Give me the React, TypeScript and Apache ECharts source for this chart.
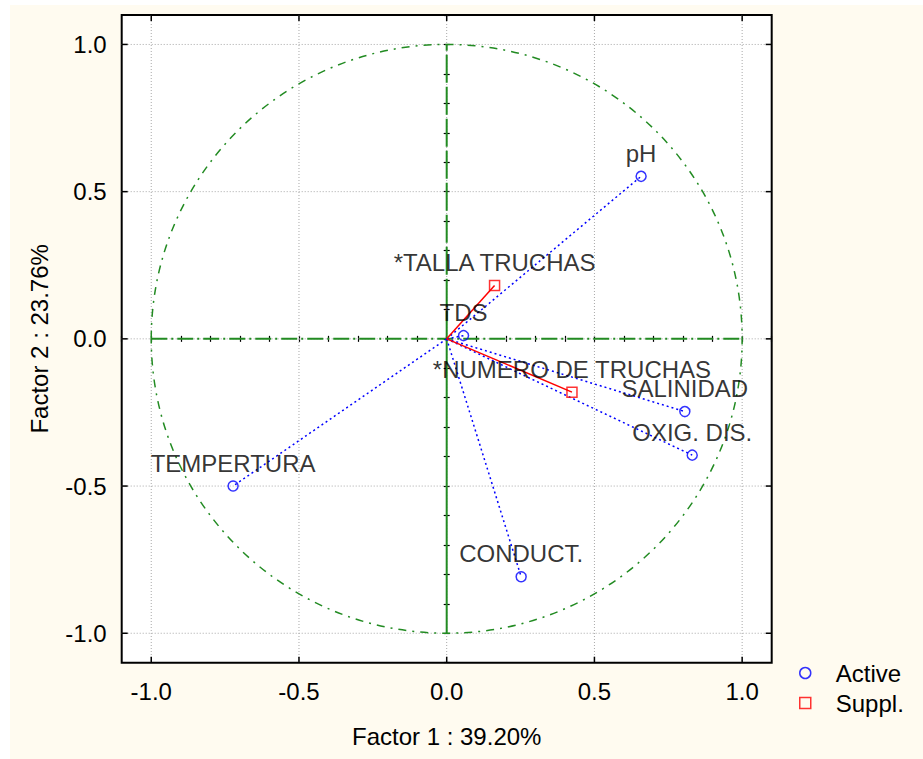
import React, { useEffect, useRef } from "react";
import * as echarts from "echarts";

// ---- data ----
const activeNames = ["pH", "TDS", "SALINIDAD", "OXIG. DIS.", "CONDUCT.", "TEMPERTURA"];
const activeX = [0.658, 0.057, 0.806, 0.831, 0.252, -0.723];
const activeY = [0.552, 0.011, -0.247, -0.395, -0.808, -0.5];

const supplNames = ["*TALLA TRUCHAS", "*NUMERO DE TRUCHAS"];
const supplX = [0.162, 0.424];
const supplY = [0.181, -0.181];

const majorTicks = [-1.0, -0.5, 0.0, 0.5, 1.0];
const axisMin = -1.1;
const axisMax = 1.1;
const minorStep = 0.1;
const unitRadius = 1;

const xTitle = "Factor 1 : 39.20%";
const yTitle = "Factor 2 : 23.76%";
const legendActive = "Active";
const legendSuppl = "Suppl.";

const FONT = "'Liberation Sans', Arial, sans-serif";
const TEXT = "#000";
const GREEN = "#228B22";
const BLUE = "#0000ff";
const RED = "#ff0000";

const tickFormatter = (v: number) => {
  const d = v * 2;
  if (Math.abs(d - Math.round(d)) > 1e-6) return "";
  const r = Math.round(v * 10) / 10;
  if (Math.abs(r) < 1e-9) return "0.0";
  return r.toFixed(1);
};

export default function App() {
  const ref = useRef<HTMLDivElement>(null);

  useEffect(() => {
    if (!ref.current) return;
    const chart = echarts.init(ref.current, undefined, { renderer: "svg" });

    const gridItem = (params: any, api: any) => {
      const v = api.value(0);
      const b = api.coord([v, axisMin]);
      const t = api.coord([v, axisMax]);
      const l = api.coord([axisMin, v]);
      const r = api.coord([axisMax, v]);
      const gs = { stroke: "#a8a8a8", lineWidth: 1, lineDash: [1, 2], fill: "none" };
      const ts = { stroke: "#000", lineWidth: 1.5, fill: "none" };
      const T = 6;
      return {
        type: "group",
        children: [
          { type: "line", shape: { x1: t[0], y1: t[1], x2: b[0], y2: b[1] }, style: gs },
          { type: "line", shape: { x1: l[0], y1: l[1], x2: r[0], y2: r[1] }, style: gs },
          { type: "line", shape: { x1: b[0], y1: b[1], x2: b[0], y2: b[1] - T }, style: ts },
          { type: "line", shape: { x1: t[0], y1: t[1], x2: t[0], y2: t[1] + T }, style: ts },
          { type: "line", shape: { x1: l[0], y1: l[1], x2: l[0] + T, y2: l[1] }, style: ts },
          { type: "line", shape: { x1: r[0], y1: r[1], x2: r[0] - T, y2: r[1] }, style: ts },
        ],
      };
    };

    const circleItem = (params: any, api: any) => {
      const c = api.coord([api.value(0), api.value(1)]);
      const R = api.value(2);
      const ex = api.coord([R, 0]);
      const ey = api.coord([0, R]);
      const exl = api.coord([-R, 0]);
      const eyb = api.coord([0, -R]);
      return {
        type: "group",
        children: [
          {
            type: "ellipse",
            shape: { cx: c[0], cy: c[1], rx: ex[0] - c[0], ry: c[1] - ey[1] },
            style: { stroke: GREEN, fill: "none", lineWidth: 1.5, lineDash: [8, 6, 2, 6] },
          },
          {
            type: "line",
            shape: { x1: exl[0], y1: exl[1], x2: ex[0], y2: ex[1] },
            style: { stroke: GREEN, lineWidth: 2, lineDash: [16, 4, 2, 4] },
          },
          {
            type: "line",
            shape: { x1: c[0], y1: c[1], x2: ey[0], y2: ey[1] },
            style: { stroke: GREEN, lineWidth: 2, lineDash: [28, 4] },
          },
          {
            type: "line",
            shape: { x1: c[0], y1: c[1], x2: eyb[0], y2: eyb[1] },
            style: { stroke: GREEN, lineWidth: 2 },
          },
        ],
      };
    };

    const rayItem = (color: string, dash: number[] | null) => (params: any, api: any) => {
      const o = api.coord([0, 0]);
      const p = api.coord([api.value(0), api.value(1)]);
      return {
        type: "line",
        shape: { x1: o[0], y1: o[1], x2: p[0], y2: p[1] },
        style: { stroke: color, lineWidth: 1.5, lineDash: dash || undefined, fill: "none" },
      };
    };

    const labelStyle = {
      show: true,
      position: "top",
      distance: 5,
      formatter: "{b}",
      fontSize: 24,
      fontFamily: FONT,
      color: TEXT,
    };

    const minorAxisCommon = {
      type: "value",
      min: axisMin,
      max: axisMax,
      interval: minorStep,
      axisLine: { show: false },
      axisTick: { show: true, inside: true, length: 3, lineStyle: { color: "#000", width: 1.2 } },
      splitLine: { show: false },
    };

    chart.setOption({
      animation: false,
      backgroundColor: "transparent",
      grid: {
        left: 121.7,
        top: 15,
        width: 650,
        height: 647.7,
        show: true,
        backgroundColor: "#ffffff",
        borderColor: "#000",
        borderWidth: 2,
      },
      xAxis: [
        {
          ...minorAxisCommon,
          position: "bottom",
          axisLabel: { formatter: tickFormatter, fontSize: 24, fontFamily: FONT, color: TEXT, margin: 17 },
          name: xTitle,
          nameLocation: "middle",
          nameGap: 62,
          nameTextStyle: { fontSize: 24, fontFamily: FONT, color: TEXT },
        },
        { ...minorAxisCommon, position: "top", axisLabel: { show: false } },
      ],
      yAxis: [
        {
          ...minorAxisCommon,
          position: "left",
          axisLabel: { formatter: tickFormatter, fontSize: 24, fontFamily: FONT, color: TEXT, margin: 15 },
          name: yTitle,
          nameLocation: "middle",
          nameGap: 70,
          nameTextStyle: { fontSize: 24, fontFamily: FONT, color: TEXT },
        },
        { ...minorAxisCommon, position: "right", axisLabel: { show: false } },
      ],
      legend: {
        orient: "vertical",
        left: 794,
        top: 656,
        itemWidth: 11,
        itemHeight: 11,
        itemGap: 6,
        textStyle: { fontSize: 24, fontFamily: FONT, color: TEXT, padding: [0, 0, 0, 20] },
        data: [
          {
            name: legendActive,
            icon: "circle",
            itemStyle: { color: "rgba(0,0,0,0)", borderColor: BLUE, borderWidth: 1.5 },
          },
          {
            name: legendSuppl,
            icon: "rect",
            itemStyle: { color: "rgba(0,0,0,0)", borderColor: RED, borderWidth: 1.5 },
          },
        ],
      },
      series: [
        {
          type: "custom",
          silent: true,
          z: 1,
          clip: false,
          data: majorTicks.map((v) => [v, 0]),
          encode: { x: 0, y: 1 },
          renderItem: gridItem,
        },
        {
          type: "custom",
          silent: true,
          z: 2,
          data: [[0, 0, unitRadius]],
          encode: { x: 0, y: 1 },
          renderItem: circleItem,
        },
        {
          type: "custom",
          silent: true,
          z: 3,
          data: activeX.map((x, i) => [x, activeY[i]]),
          encode: { x: 0, y: 1 },
          renderItem: rayItem(BLUE, [2, 3]),
        },
        {
          type: "custom",
          silent: true,
          z: 3,
          data: supplX.map((x, i) => [x, supplY[i]]),
          encode: { x: 0, y: 1 },
          renderItem: rayItem(RED, null),
        },
        {
          name: legendActive,
          type: "scatter",
          z: 5,
          symbol: "circle",
          symbolSize: 10,
          itemStyle: { color: "rgba(0,0,0,0)", borderColor: BLUE, borderWidth: 1.5 },
          label: labelStyle,
          data: activeX.map((x, i) => ({ name: activeNames[i], value: [x, activeY[i]] })),
        },
        {
          name: legendSuppl,
          type: "scatter",
          z: 5,
          symbol: "rect",
          symbolSize: 10,
          itemStyle: { color: "rgba(0,0,0,0)", borderColor: RED, borderWidth: 1.5 },
          label: labelStyle,
          data: supplX.map((x, i) => ({ name: supplNames[i], value: [x, supplY[i]] })),
        },
      ],
    });

    return () => chart.dispose();
  }, []);

  return (
    <div style={{ position: "absolute", left: 0, top: 0, width: 923, height: 759, background: "#ffffff" }}>
      <div
        style={{ position: "absolute", left: 10, top: 5, width: 913, height: 754, background: "#fffbf0" }}
      />
      <div ref={ref} style={{ position: "absolute", left: 0, top: 0, width: 923, height: 759 }} />
    </div>
  );
}
